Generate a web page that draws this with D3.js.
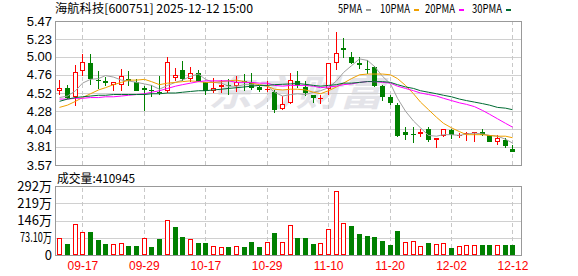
<!DOCTYPE html>
<html>
<head>
<meta charset="utf-8">
<script src="https://cdn.jsdelivr.net/npm/d3@7"></script>
<style>
  body { margin: 0; background: #fff; }
  svg { display: block; }
</style>
</head>
<body>
<div id="chart"></div>
<script>
// trading days shown (60 sessions)
const dates = ["2025-09-12","2025-09-15","2025-09-16","2025-09-17","2025-09-18","2025-09-19","2025-09-22","2025-09-23","2025-09-24","2025-09-25",
  "2025-09-26","2025-09-29","2025-09-30","2025-10-09","2025-10-10","2025-10-13","2025-10-14","2025-10-15","2025-10-16","2025-10-17",
  "2025-10-20","2025-10-21","2025-10-22","2025-10-23","2025-10-24","2025-10-27","2025-10-28","2025-10-29","2025-10-30","2025-10-31",
  "2025-11-03","2025-11-04","2025-11-05","2025-11-06","2025-11-07","2025-11-10","2025-11-11","2025-11-12","2025-11-13","2025-11-14",
  "2025-11-17","2025-11-18","2025-11-19","2025-11-20","2025-11-21","2025-11-24","2025-11-25","2025-11-26","2025-11-27","2025-11-28",
  "2025-12-01","2025-12-02","2025-12-03","2025-12-04","2025-12-05","2025-12-08","2025-12-09","2025-12-10","2025-12-11","2025-12-12"];

const open  = [4.55,4.59,4.47,4.81,4.92,4.69,4.68,4.62,4.62,4.71, 4.67,4.58,4.56,4.53,4.55,4.72,4.83,4.71,4.79,4.66,
               4.55,4.60,4.63,4.61,4.68,4.67,4.60,4.56,4.53,4.31, 4.39,4.68,4.60,4.50,4.45,4.57,4.92,5.11,5.00,4.92,
               4.84,4.86,4.61,4.47,4.36,4.01,3.98,3.98,4.04,3.90, 3.95,4.03,3.96,3.98,3.99,4.01,3.96,3.87,3.90,3.78];
const high  = [4.69,4.63,4.89,5.04,5.03,4.81,4.73,4.66,4.84,4.81, 4.70,4.61,4.63,4.75,4.99,4.85,4.94,4.86,4.82,4.66,
               4.72,4.69,4.70,4.74,4.77,4.78,4.61,4.68,4.56,4.48, 4.79,4.81,4.68,4.50,4.50,4.91,5.33,5.24,5.06,5.00,
               4.96,4.87,4.62,4.50,4.39,4.07,4.07,4.05,4.07,3.93, 4.05,4.05,3.99,4.00,4.00,4.05,3.96,3.96,3.93,3.83];
const low   = [4.49,4.44,4.35,4.74,4.63,4.57,4.61,4.55,4.55,4.61, 4.55,4.28,4.47,4.49,4.52,4.68,4.68,4.66,4.66,4.50,
               4.52,4.52,4.50,4.53,4.55,4.56,4.53,4.53,4.25,4.30, 4.38,4.59,4.48,4.39,4.38,4.49,4.82,4.98,4.90,4.84,
               4.77,4.60,4.41,4.36,3.94,3.90,3.86,3.94,3.88,3.79, 3.94,3.91,3.92,3.89,3.88,3.95,3.87,3.84,3.80,3.74];
const close = [4.59,4.45,4.80,4.93,4.71,4.68,4.65,4.66,4.75,4.68, 4.55,4.56,4.55,4.52,4.93,4.76,4.71,4.79,4.67,4.55,
               4.59,4.63,4.62,4.67,4.66,4.59,4.56,4.57,4.29,4.38, 4.69,4.63,4.52,4.45,4.46,4.91,5.05,5.09,4.91,4.89,
               4.83,4.61,4.47,4.39,3.95,3.96,3.97,4.00,3.90,3.93, 4.04,3.96,3.97,3.99,4.00,3.96,3.87,3.92,3.82,3.74];
const prevClose = 4.55; // close of the session before the first one shown

// volume, in 万
const volume = [71.7,47.7,130.8,97.0,98.3,64.6,47.7,46.4,50.6,39.2, 39.2,71.7,35.0,68.8,147.7,119.4,77.2,67.5,51.9,51.9,
                38.0,33.8,35.0,38.0,35.0,56.1,35.0,56.1,94.1,56.1, 126.6,71.7,71.7,47.7,50.6,109.7,270.0,135.0,123.6,89.9,
                81.4,77.2,60.3,43.5,102.5,54.9,59.1,38.0,51.9,46.4, 50.6,30.8,38.0,42.2,42.2,42.2,42.2,42.2,42.2,41.09];
const lastVolume = 410945;

// moving averages as drawn
const ma5  = [4.46,4.48,4.55,4.65,4.70,4.71,4.75,4.73,4.69,4.68, 4.66,4.64,4.62,4.57,4.62,4.66,4.69,4.74,4.77,4.70,
              4.66,4.65,4.61,4.61,4.63,4.63,4.62,4.61,4.53,4.48, 4.50,4.51,4.50,4.53,4.55,4.59,4.68,4.79,4.88,4.97,
              4.95,4.87,4.74,4.64,4.45,4.28,4.15,4.06,3.96,3.95, 3.97,3.97,3.96,3.98,3.99,3.98,3.96,3.95,3.91,3.86];
const ma10 = [4.33,4.36,4.41,4.46,4.51,4.56,4.59,4.63,4.66,4.69, 4.69,4.70,4.67,4.63,4.65,4.66,4.67,4.68,4.67,4.66,
              4.66,4.67,4.68,4.69,4.67,4.65,4.63,4.61,4.57,4.56, 4.57,4.57,4.56,4.53,4.51,4.55,4.60,4.65,4.71,4.76,
              4.77,4.77,4.77,4.76,4.71,4.62,4.51,4.40,4.30,4.20, 4.12,4.06,4.01,3.97,3.97,3.97,3.96,3.95,3.95,3.93];
const ma20 = [4.44,4.44,4.45,4.45,4.46,4.46,4.47,4.47,4.48,4.49, 4.50,4.51,4.53,4.55,4.58,4.61,4.63,4.65,4.67,4.68,
              4.68,4.68,4.68,4.66,4.66,4.66,4.65,4.65,4.62,4.61, 4.62,4.62,4.62,4.61,4.59,4.60,4.61,4.63,4.64,4.66,
              4.67,4.67,4.66,4.65,4.61,4.58,4.55,4.52,4.50,4.48, 4.45,4.42,4.39,4.37,4.34,4.29,4.24,4.18,4.12,4.07];
const ma30 = [4.41,4.44,4.46,4.47,4.48,4.49,4.49,4.50,4.50,4.50, 4.50,4.50,4.51,4.51,4.52,4.52,4.53,4.54,4.55,4.55,
              4.56,4.57,4.58,4.59,4.60,4.61,4.62,4.62,4.63,4.635, 4.64,4.645,4.635,4.62,4.61,4.62,4.63,4.65,4.65,4.66,
              4.67,4.67,4.67,4.66,4.63,4.60,4.58,4.55,4.53,4.51, 4.49,4.47,4.44,4.42,4.40,4.38,4.36,4.33,4.32,4.30];

const priceTicks = ["3.57","3.81","4.04","4.28","4.52","4.76","5.00","5.23","5.47"];
const volTickValues = [0, 73.1, 146.2, 219.3, 292.4];
const volTickLabels = ["0", "73.10万", "146万", "219万", "292万"];
const dateTicks = ["2025-09-17","2025-09-29","2025-10-17","2025-10-29","2025-11-10","2025-11-20","2025-12-02","2025-12-12"];

const title = "海航科技[600751] 2025-12-12 15:00";
const maNames = ["5PMA", "10PMA", "20PMA", "30PMA"];

// ---- layout ----
const W = 578, H = 276;
const left = 55, right = 522;
const pTop = 21, pBottom = 165;
const vTop = 186, vBottom = 255;
const RED = "#ff0000", GREEN = "#008000";
const maColors = ["#a0a0a0", "#f0a000", "#ff00ff", "#006b33"];
const txtFont = "'Noto Sans CJK SC', sans-serif";
const numFont = "'Liberation Sans', Arial, sans-serif";

const svg = d3.select("#chart").append("svg")
    .attr("width", W)
    .attr("height", H);

const x = d3.scaleBand().domain(dates).range([56, 516.8]);
const xc = d => Math.floor(x(d) + x.bandwidth() / 2);
const y = d3.scaleLinear().domain([3.57, 5.47]).range([pBottom, pTop]);
const yv = d3.scaleLinear().domain([0, 292.4]).range([vBottom, vTop]);

// watermark
svg.append("text")
    .attr("x", 208).attr("y", 106)
    .attr("textLength", 175).attr("lengthAdjust", "spacingAndGlyphs")
    .style("font-family", txtFont).style("font-size", "36px")
    .style("font-weight", "bold").style("font-style", "italic")
    .style("fill", "#e4e4e9")
    .text("东方财富");

// horizontal grid
svg.append("g")
    .attr("transform", `translate(${left},0)`)
    .call(d3.axisLeft(y).tickValues(priceTicks.map(Number)).tickSize(-(right - left)).tickFormat(""))
    .call(g => g.select(".domain").remove())
    .call(g => g.selectAll("line").attr("stroke", "#d0d0d0").attr("shape-rendering", "crispEdges"));

svg.append("g")
    .attr("transform", `translate(${left},0)`)
    .call(d3.axisLeft(yv).tickValues(volTickValues).tickSize(-(right - left)).tickFormat(""))
    .call(g => g.select(".domain").remove())
    .call(g => g.selectAll("line").attr("stroke", "#d0d0d0").attr("shape-rendering", "crispEdges"));

// vertical dashed grid
[[pTop, pBottom], [vTop, vBottom]].forEach(([t, b]) => {
  svg.append("g")
      .attr("transform", `translate(0,${b})`)
      .call(d3.axisBottom(x).tickValues(dateTicks).tickSize(-(b - t)).tickFormat(""))
      .call(g => g.select(".domain").remove())
      .call(g => g.selectAll("line").attr("stroke", "#c8c8c8")
          .attr("stroke-dasharray", "4,3").attr("shape-rendering", "crispEdges"));
});

// frames
svg.append("rect")
    .attr("x", left + 0.5).attr("y", pTop + 0.5)
    .attr("width", right - left - 1).attr("height", pBottom - pTop)
    .attr("fill", "none").attr("stroke", "#999").attr("shape-rendering", "crispEdges");
svg.append("rect")
    .attr("x", left + 0.5).attr("y", vTop + 0.5)
    .attr("width", right - left - 1).attr("height", vBottom - vTop)
    .attr("fill", "none").attr("stroke", "#999").attr("shape-rendering", "crispEdges");

// candles
const candles = svg.append("g").attr("shape-rendering", "crispEdges");
dates.forEach((d, i) => {
  const c = xc(d);
  const o = open[i], cl = close[i];
  const up = cl >= o;
  const col = up ? RED : GREEN;
  const yo = Math.round(y(o)), yc = Math.round(y(cl));
  const yh = Math.round(y(high[i])), yl = Math.round(y(low[i]));
  const top = Math.min(yo, yc), bot = Math.max(yo, yc);
  if (up) {
    candles.append("line").attr("x1", c + 0.5).attr("x2", c + 0.5)
        .attr("y1", yh).attr("y2", top).attr("stroke", col);
    candles.append("line").attr("x1", c + 0.5).attr("x2", c + 0.5)
        .attr("y1", bot).attr("y2", yl).attr("stroke", col);
    if (bot - top < 2) {
      candles.append("line").attr("x1", c - 2).attr("x2", c + 3)
          .attr("y1", top + 0.5).attr("y2", top + 0.5).attr("stroke", col);
    } else {
      candles.append("rect").attr("x", c - 1.5).attr("y", top + 0.5)
          .attr("width", 4).attr("height", bot - top - 1)
          .attr("fill", "#fff").attr("stroke", col);
    }
  } else {
    candles.append("line").attr("x1", c + 0.5).attr("x2", c + 0.5)
        .attr("y1", yh).attr("y2", yl).attr("stroke", col);
    candles.append("rect").attr("x", c - 2).attr("y", top)
        .attr("width", 5).attr("height", Math.max(1, bot - top))
        .attr("fill", col);
  }
});

// moving averages
[ma5, ma10, ma20, ma30].forEach((ma, k) => {
  const line = d3.line()
      .x((v, i) => xc(dates[i]) + 0.5)
      .y(v => y(v));
  svg.append("path")
      .attr("d", line(ma))
      .attr("fill", "none")
      .attr("stroke", maColors[k])
      .attr("stroke-width", 1);
});

// volume bars
const vbars = svg.append("g").attr("shape-rendering", "crispEdges");
dates.forEach((d, i) => {
  const c = xc(d);
  const prev = i === 0 ? prevClose : close[i - 1];
  const up = close[i] >= prev;
  const t = Math.round(yv(volume[i]));
  if (up) {
    vbars.append("rect").attr("x", c - 1.5).attr("y", t + 0.5)
        .attr("width", 4).attr("height", vBottom - t - 1)
        .attr("fill", "#fff").attr("stroke", RED);
  } else {
    vbars.append("rect").attr("x", c - 2).attr("y", t)
        .attr("width", 5).attr("height", vBottom - t)
        .attr("fill", GREEN);
  }
});

// price labels
svg.append("g")
    .attr("transform", `translate(${left - 2},0)`)
    .call(d3.axisLeft(y).tickValues(priceTicks.map(Number)).tickSize(0).tickPadding(1)
        .tickFormat((v, i) => priceTicks[i]))
    .call(g => g.select(".domain").remove())
    .call(g => g.selectAll("text").attr("fill", "#000")
        .style("font-family", numFont).style("font-size", "13px"));

// volume labels
svg.append("g")
    .attr("transform", `translate(${left - 2},0)`)
    .call(d3.axisLeft(yv).tickValues(volTickValues).tickSize(0).tickPadding(1)
        .tickFormat((v, i) => volTickLabels[i]))
    .call(g => g.select(".domain").remove())
    .call(g => g.selectAll("text").attr("fill", "#000")
        .style("font-family", txtFont).style("font-size", "13px")
        .attr("textLength", (v, i) => volTickLabels[i] === "73.10万" ? 32 : null)
        .attr("lengthAdjust", "spacingAndGlyphs"));

// date labels
svg.append("g")
    .attr("transform", `translate(0,${vBottom})`)
    .call(d3.axisBottom(x).tickValues(dateTicks).tickSize(0).tickPadding(6)
        .tickFormat(d => d.slice(5)))
    .call(g => g.select(".domain").remove())
    .call(g => g.selectAll("text").attr("fill", RED)
        .style("font-family", numFont).style("font-size", "12px"));

// title
svg.append("text")
    .attr("x", 55).attr("y", 13)
    .attr("textLength", 198).attr("lengthAdjust", "spacingAndGlyphs")
    .style("font-family", txtFont).style("font-size", "12px").style("fill", "#000")
    .text(title);

// volume caption
svg.append("text")
    .attr("x", 57).attr("y", 183)
    .attr("textLength", 78).attr("lengthAdjust", "spacingAndGlyphs")
    .style("font-family", txtFont).style("font-size", "12px").style("fill", "#000")
    .text("成交量:" + lastVolume);

// legend
const legendX = [338, 380, 425, 472];
maNames.forEach((name, k) => {
  const w = name.length * 6;
  svg.append("text")
      .attr("x", legendX[k]).attr("y", 13)
      .attr("textLength", w).attr("lengthAdjust", "spacingAndGlyphs")
      .style("font-family", txtFont).style("font-size", "12px").style("fill", "#000")
      .text(name);
  svg.append("rect")
      .attr("x", legendX[k] + w + 4).attr("y", 9)
      .attr("width", 5).attr("height", 2)
      .attr("fill", maColors[k]);
});
</script>
</body>
</html>
